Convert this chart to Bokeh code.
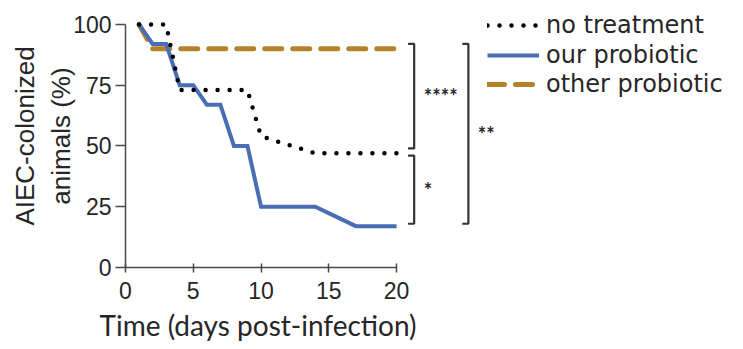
from bokeh.plotting import figure
from bokeh.models import Range1d, Legend, LegendItem, FixedTicker, Title
from bokeh.core.properties import value
from bokeh.embed import file_html
from bokeh.resources import INLINE

# ---- data ----
days_none = [1, 3, 4, 9, 10, 14, 20]
pct_none = [100, 100, 73, 73, 54, 47, 47]

days_ours = [1, 2, 3, 4, 5, 6, 7, 8, 9, 10, 14, 17, 20]
pct_ours = [100, 92, 92, 75, 75, 67, 67, 50, 50, 25, 25, 17, 17]

days_other = [1, 2, 20]
pct_other = [100, 90, 90]

series_names = ["no treatment", "our probiotic", "other probiotic"]
x_ticks = [0, 5, 10, 15, 20]
y_ticks = [0, 25, 50, 75, 100]

# significance brackets
bracket_top = [92, 46, 92]
bracket_bottom = [49, 18, 18]
bracket_labels = ["****", "*", "**"]
bracket_col = [0, 0, 1]

BLUE = "#4a6db3"
GOLD = "#b3822b"
INK = "#262626"
AXIS = "#4a4a4a"

p = figure(width=743, height=349, output_backend="svg", toolbar_location=None,
           x_range=Range1d(0, 45.6), y_range=Range1d(0, 108.2),
           min_border_left=125, min_border_right=0, min_border_top=4,
           min_border_bottom=82)
p.outline_line_color = None
p.grid.visible = False
p.background_fill_color = None
p.border_fill_color = "white"

r_other = p.line(days_other, pct_other, line_color=GOLD, line_width=5,
                 line_dash="17 11", line_cap="round")
r_ours = p.line(days_ours, pct_ours, line_color=BLUE, line_width=4,
                line_join="miter")
r_none = p.line(days_none, pct_none, line_color="black", line_width=4.5,
                line_dash="0 12", line_cap="round")

# axes
xa = p.xaxis[0]
xa.bounds = (0, 20)
xa.ticker = FixedTicker(ticks=x_ticks)
xa.minor_tick_line_color = None
xa.major_tick_in = 4
xa.major_tick_out = 5
xa.axis_line_color = AXIS
xa.major_tick_line_color = AXIS
xa.axis_line_width = 1.5
xa.major_tick_line_width = 1.5
xa.major_label_text_font = "Liberation Sans"
xa.major_label_text_font_size = "23px"
xa.major_label_text_color = INK
xa.major_label_standoff = 9

ya = p.yaxis[0]
ya.bounds = (0, 100)
ya.ticker = FixedTicker(ticks=y_ticks)
ya.minor_tick_line_color = None
ya.major_tick_in = 0
ya.major_tick_out = 10
ya.axis_line_color = AXIS
ya.major_tick_line_color = AXIS
ya.axis_line_width = 1.5
ya.major_tick_line_width = 1.5
ya.major_label_text_font = "Liberation Sans"
ya.major_label_text_font_size = "23px"
ya.major_label_text_color = INK
ya.major_label_standoff = 4
ya.axis_label = "AIEC-colonized\nanimals (%)"
ya.axis_label_text_font = "Liberation Sans"
ya.axis_label_text_font_style = "normal"
ya.axis_label_text_font_size = "26px"
ya.axis_label_text_color = INK
ya.axis_label_standoff = -6

# x-axis title, centred under the 0-20 axis rather than the whole frame
p.add_layout(Title(text="Time (days post-infection)", align="left", offset=-26,
                   standoff=9, text_font="Lato", text_font_size="28px",
                   text_font_style="normal", text_color=INK), "below")

# significance brackets
col_x = [21.3, 25.3]
tick_len = 0.45
xs, ys, tx, ty = [], [], [], []
for top, bot, c in zip(bracket_top, bracket_bottom, bracket_col):
    bx = col_x[c]
    xs.append([bx - tick_len, bx, bx, bx - tick_len])
    ys.append([top, top, bot, bot])
    tx.append(bx + 0.7)
    ty.append((top + bot) / 2)
p.multi_line(xs, ys, line_color="#333333", line_width=2.2)
p.text(tx, ty, text=bracket_labels, text_font=value("Lato"),
       text_font_size="20px", text_font_style="bold", text_color=INK,
       text_baseline="middle", text_align="left")

# legend: one row per series, stacked from the top right
row_height = 40
row_bottoms = [222, 192, 163]
for name, r, yb in zip(series_names, [r_none, r_ours, r_other], row_bottoms):
    lg = Legend(items=[LegendItem(label=name, renderers=[r])],
                location=(362, yb))
    lg.glyph_width = 52
    lg.glyph_height = row_height
    lg.label_height = row_height
    lg.label_standoff = 7
    lg.padding = 0
    lg.margin = 0
    lg.border_line_color = None
    lg.background_fill_color = None
    lg.label_text_font = "DejaVu Sans"
    lg.label_text_font_size = "24px"
    lg.label_text_color = INK
    p.add_layout(lg, "center")

open("out.html", "w").write(file_html(p, INLINE))
